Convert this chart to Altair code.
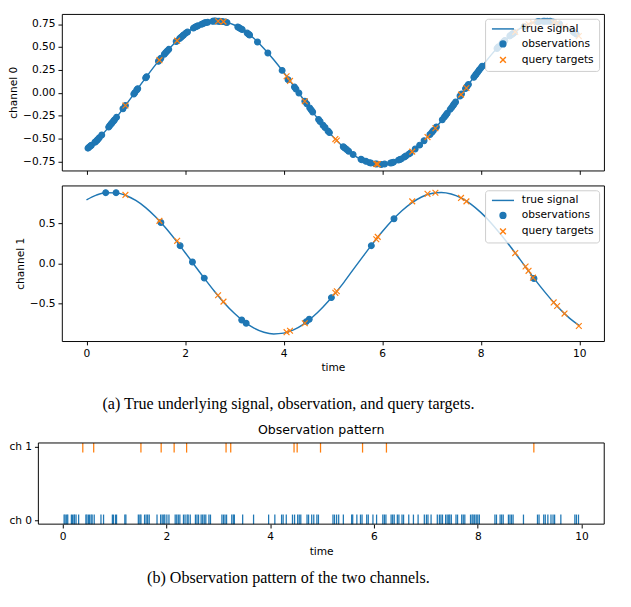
import altair as alt
import pandas as pd

BLUE = "#1f77b4"
ORANGE = "#ff7f0e"

# ---- data ----
curve_t = [0.0, 0.2, 0.4, 0.6, 0.8, 1.0, 1.2, 1.4, 1.6, 1.8,
           2.0, 2.2, 2.4, 2.6, 2.8, 3.0, 3.2, 3.4, 3.6, 3.8,
           4.0, 4.2, 4.4, 4.6, 4.8, 5.0, 5.2, 5.4, 5.6, 5.8,
           6.0, 6.2, 6.4, 6.6, 6.8, 7.0, 7.2, 7.4, 7.6, 7.8,
           8.0, 8.2, 8.4, 8.6, 8.8, 9.0, 9.2, 9.4, 9.6, 9.8, 10.0]

ch0_curve = [-0.620, -0.528, -0.409, -0.276, -0.133, 0.015, 0.162, 0.304, 0.434, 0.549,
             0.645, 0.717, 0.764, 0.784, 0.776, 0.740, 0.678, 0.592, 0.484, 0.360,
             0.224, 0.077, -0.071, -0.217, -0.355, -0.480, -0.587, -0.673, -0.737, -0.775,
             -0.785, -0.766, -0.721, -0.649, -0.554, -0.439, -0.310, -0.168, -0.021, 0.126,
             0.269, 0.405, 0.526, 0.626, 0.703, 0.756, 0.782, 0.781, 0.752, 0.696, 0.615]

ch1_curve = [0.793, 0.852, 0.882, 0.880, 0.848, 0.785, 0.696, 0.581, 0.447, 0.296,
             0.135, -0.031, -0.195, -0.353, -0.499, -0.625, -0.731, -0.812, -0.863, -0.884,
             -0.874, -0.834, -0.764, -0.667, -0.547, -0.410, -0.258, -0.090, 0.076, 0.239,
             0.394, 0.535, 0.657, 0.756, 0.829, 0.872, 0.885, 0.866, 0.817, 0.740,
             0.636, 0.511, 0.366, 0.209, 0.045, -0.121, -0.283, -0.433, -0.570, -0.687, -0.779]

ch0_obs = [
    (0.03, -0.606), (0.05, -0.597), (0.08, -0.583), (0.10, -0.574), (0.17, -0.542),
    (0.19, -0.533), (0.22, -0.516), (0.23, -0.510), (0.26, -0.492), (0.31, -0.462),
    (0.45, -0.376), (0.47, -0.362), (0.50, -0.342), (0.52, -0.329), (0.55, -0.309),
    (0.57, -0.296), (0.61, -0.269), (0.74, -0.176), (0.79, -0.140), (0.96, -0.015),
    (0.98, 0.000), (1.02, 0.030), (1.04, 0.044), (1.20, 0.162), (1.22, 0.176),
    (1.46, 0.343), (1.49, 0.363), (1.51, 0.376), (1.58, 0.421), (1.61, 0.440),
    (1.64, 0.457), (1.67, 0.474), (1.82, 0.559), (1.89, 0.593), (1.92, 0.607),
    (1.95, 0.621), (1.97, 0.631), (2.01, 0.649), (2.05, 0.663), (2.17, 0.706),
    (2.20, 0.717), (2.23, 0.724), (2.26, 0.731), (2.33, 0.747), (2.36, 0.754),
    (2.40, 0.764), (2.42, 0.766), (2.46, 0.770), (2.56, 0.780), (2.59, 0.783),
    (2.62, 0.784), (2.67, 0.781), (2.70, 0.780), (2.73, 0.779), (2.76, 0.778),
    (2.82, 0.772), (2.85, 0.767), (3.07, 0.718), (3.10, 0.709), (3.13, 0.700),
    (3.16, 0.690), (3.26, 0.652), (3.29, 0.639), (3.31, 0.631), (3.47, 0.554),
    (3.68, 0.434), (3.97, 0.244), (4.09, 0.143), (4.22, 0.062), (4.25, 0.040),
    (4.31, -0.004), (4.43, -0.093), (4.47, -0.122), (4.53, -0.166), (4.56, -0.188),
    (4.59, -0.210), (4.71, -0.293), (4.74, -0.314), (4.80, -0.355), (4.84, -0.380),
    (4.90, -0.418), (4.93, -0.436), (5.21, -0.591), (5.24, -0.604), (5.28, -0.621),
    (5.32, -0.639), (5.41, -0.676), (5.57, -0.727), (5.59, -0.734), (5.67, -0.750),
    (5.74, -0.764), (5.77, -0.769), (5.86, -0.778), (5.89, -0.780), (5.98, -0.784),
    (6.05, -0.780), (6.17, -0.769), (6.20, -0.766), (6.23, -0.759), (6.33, -0.737),
    (6.36, -0.730), (6.39, -0.723), (6.45, -0.703), (6.48, -0.692), (6.54, -0.671),
    (6.57, -0.660), (6.67, -0.616), (6.76, -0.573), (6.85, -0.525), (6.97, -0.456),
    (7.01, -0.433), (7.04, -0.413), (7.10, -0.375), (7.22, -0.296), (7.26, -0.267),
    (7.29, -0.246), (7.32, -0.225), (7.38, -0.182), (7.41, -0.161), (7.44, -0.139),
    (7.46, -0.124), (7.49, -0.102), (7.58, -0.036), (7.61, -0.014), (7.69, 0.045),
    (7.72, 0.067), (7.75, 0.089), (7.86, 0.169), (7.89, 0.190), (7.91, 0.205),
    (7.94, 0.226), (7.97, 0.248), (8.00, 0.269), (8.03, 0.289), (8.33, 0.484),
    (8.36, 0.502), (8.43, 0.541), (8.46, 0.556), (8.49, 0.571), (8.59, 0.621),
    (8.62, 0.634), (8.65, 0.645), (8.68, 0.657), (8.88, 0.724), (9.15, 0.776),
    (9.18, 0.779), (9.27, 0.782), (9.30, 0.782), (9.35, 0.781), (9.41, 0.780),
    (9.45, 0.774), (9.48, 0.770), (9.60, 0.752), (9.87, 0.668), (9.90, 0.656),
    (9.94, 0.640),
]

ch1_obs = [
    (0.39, 0.883), (0.60, 0.883), (1.51, 0.510), (1.90, 0.220), (2.15, 0.016),
    (2.39, -0.186), (3.15, -0.710), (3.24, -0.750), (4.46, -0.730), (4.52, -0.700),
    (4.97, -0.430), (5.78, 0.220), (6.24, 0.556), (9.08, -0.190),
]

query_t = [0.79, 1.48, 1.84, 2.67, 2.78, 4.06, 4.13, 4.43, 5.05, 5.08, 5.88, 5.91,
           6.61, 6.92, 7.08, 7.60, 7.71, 8.70, 8.91, 8.97, 9.06, 9.48, 9.55, 9.70, 9.99]
ch0_query = [-0.140, 0.356, 0.569, 0.781, 0.777, 0.180, 0.129, -0.093, -0.507, -0.523,
             -0.779, -0.781, -0.644, -0.485, -0.388, -0.021, 0.052, 0.665, 0.732, 0.748,
             0.764, 0.770, 0.759, 0.724, 0.619]
ch1_query = [0.855, 0.530, 0.280, -0.400, -0.480, -0.862, -0.845, -0.750, -0.370, -0.350,
             0.300, 0.330, 0.774, 0.868, 0.882, 0.817, 0.774, 0.127, -0.040, -0.095,
             -0.180, -0.490, -0.535, -0.630, -0.785]

KINDS = ["true signal", "observations", "query targets"]
X_TICKS = [0, 2, 4, 6, 8, 10]

LINE_PATH = "M-3.8,0L3.8,0"
X_PATH = "M-1,-1L1,1M-1,1L1,-1"

CAP_FONT = "Liberation Serif"
FONT = "DejaVu Sans"

PANEL_W = 561          # plot width of the signal panels
PAT_LEFT = 24.3        # observation-pattern plot starts this far left of the panels
PAT_XDOM = [-0.466, 10.436]
PAT_YDOM = [-0.05, 1.05]

INDEP_SCALES = dict(x="independent", y="independent", shape="independent", fill="independent",
                    stroke="independent", color="independent")
INDEP_LEGENDS = dict(shape="independent", fill="independent", stroke="independent",
                     color="independent")


def signal_panel(curve_vals, obs, q_vals, ylabel, yvals, yfmt, ydom, h, bottom, title=None):
    curve_df = pd.DataFrame({"t": curve_t, "v": curve_vals})
    rows = [{"t": t, "v": v, "kind": "observations"} for t, v in obs]
    rows += [{"t": t, "v": v, "kind": "query targets"} for t, v in zip(query_t, q_vals)]
    pts_df = pd.DataFrame(rows)

    xs = alt.Scale(domain=[-0.5, 10.5], nice=False, zero=False)
    ys = alt.Scale(domain=ydom, nice=False, zero=False)
    if bottom:
        xaxis = alt.Axis(values=X_TICKS, format="d", title="time")
    else:
        xaxis = alt.Axis(values=X_TICKS, labels=False, title=None)
    yaxis = alt.Axis(values=yvals, format=yfmt, title=ylabel)

    line = alt.Chart(curve_df).mark_line(
        color=BLUE, strokeWidth=1.5, interpolate="monotone"
    ).encode(
        x=alt.X("t:Q", scale=xs, axis=xaxis),
        y=alt.Y("v:Q", scale=ys, axis=yaxis),
    )

    leg = alt.Legend(title=None, orient="top-right")
    points = alt.Chart(pts_df).mark_point(
        filled=True, size=36, strokeWidth=1.2, opacity=1
    ).encode(
        x=alt.X("t:Q", scale=xs, axis=xaxis),
        y=alt.Y("v:Q", scale=ys, axis=yaxis),
        shape=alt.Shape("kind:N", scale=alt.Scale(domain=KINDS, range=[LINE_PATH, "circle", X_PATH]), legend=leg),
        fill=alt.Fill("kind:N", scale=alt.Scale(domain=KINDS, range=[BLUE, BLUE, ORANGE]), legend=leg),
        stroke=alt.Stroke("kind:N", scale=alt.Scale(domain=KINDS, range=[BLUE, BLUE, ORANGE]), legend=leg),
    )
    props = dict(width=PANEL_W, height=h)
    if title is not None:
        props["title"] = title
    return alt.layer(line, points).properties(**props)


caption_a = alt.TitleParams(
    text="(a) True underlying signal, observation, and query targets.",
    orient="bottom", anchor="middle", frame="group", dx=-46, offset=24,
    font=CAP_FONT, fontSize=16.6, fontWeight="normal", color="black",
)

panel0 = signal_panel(ch0_curve, ch0_obs, ch0_query, "channel 0",
                      [-0.75, -0.5, -0.25, 0, 0.25, 0.5, 0.75], ".2f",
                      [-0.85, 0.861], 162, False)
panel1 = signal_panel(ch1_curve, ch1_obs, ch1_query, "channel 1",
                      [-0.5, 0, 0.5], ".1f", [-0.973, 0.973], 161, True, caption_a)

# ---- observation pattern ----
pat_rows = [{"t": t, "ch": 0, "chan": "ch 0"} for t, _ in ch0_obs]
pat_rows += [{"t": t, "ch": 1, "chan": "ch 1"} for t, _ in ch1_obs]
pat_df = pd.DataFrame(pat_rows)

PAT_W = PANEL_W - PAT_LEFT   # group width; the scale range reaches left of it
pat_xs = alt.Scale(domain=PAT_XDOM, range=[-PAT_LEFT, PANEL_W + 0.3], nice=False, zero=False)
pat_ys = alt.Scale(domain=PAT_YDOM, nice=False, zero=False)
pat_xaxis = alt.Axis(values=X_TICKS, format="d", title="time", titleX=(PANEL_W - PAT_LEFT) / 2)
pat_yaxis = alt.Axis(values=[0, 1], labelExpr="datum.value == 0 ? 'ch 0' : 'ch 1'",
                     title=None, offset=PAT_LEFT)

events = alt.Chart(pat_df).transform_calculate(
    lo="max(datum.ch - 0.08, -0.05)", hi="min(datum.ch + 0.08, 1.05)"
).mark_rule(strokeWidth=1.3, clip=False).encode(
    x=alt.X("t:Q", scale=pat_xs, axis=pat_xaxis),
    y=alt.Y("lo:Q", scale=pat_ys, axis=pat_yaxis),
    y2="hi:Q",
    color=alt.Color("chan:N", scale=alt.Scale(domain=["ch 0", "ch 1"], range=[BLUE, ORANGE]), legend=None),
)

frame_df = pd.DataFrame({"x0": [PAT_XDOM[0]], "x1": [PAT_XDOM[1]],
                         "y0": [PAT_YDOM[0]], "y1": [PAT_YDOM[1]]})
frame = alt.Chart(frame_df).mark_rect(fill="transparent", stroke="black", strokeWidth=1, clip=False).encode(
    x=alt.X("x0:Q", scale=pat_xs, axis=pat_xaxis), x2="x1:Q",
    y=alt.Y("y0:Q", scale=pat_ys, axis=pat_yaxis), y2="y1:Q",
)

pattern = alt.layer(events, frame).properties(
    width=PAT_W, height=84,
    view=alt.ViewBackground(stroke="transparent"),
    title=alt.TitleParams("Observation pattern", font=FONT, fontSize=13, fontWeight="normal",
                          color="black", anchor="middle", offset=4),
)

caption_b_chart = alt.Chart(pd.DataFrame({"c": [0]})).mark_point(opacity=0).properties(
    width=PANEL_W, height=1,
    view=alt.ViewBackground(stroke="transparent", fill="transparent"),
    title=alt.TitleParams(
        text="(b) Observation pattern of the two channels.",
        orient="bottom", anchor="middle", frame="group", offset=4, dx=-46,
        font=CAP_FONT, fontSize=16.6, fontWeight="normal", color="black",
    ),
)

top = alt.vconcat(panel0, panel1, spacing=9.5).resolve_scale(**INDEP_SCALES).resolve_legend(**INDEP_LEGENDS)
bottom = alt.vconcat(pattern, caption_b_chart, spacing=4).resolve_scale(**INDEP_SCALES).resolve_legend(**INDEP_LEGENDS)

chart = alt.vconcat(top, bottom, spacing=11).resolve_scale(
    **INDEP_SCALES
).resolve_legend(
    **INDEP_LEGENDS
).properties(
    padding={"left": 7, "top": 3, "right": 2, "bottom": 0},
).configure(
    background="white",
).configure_view(
    stroke="black", strokeWidth=1,
).configure_axis(
    labelFont=FONT, labelFontSize=11, labelColor="black",
    titleFont=FONT, titleFontSize=11, titleFontWeight="normal", titleColor="black",
    tickColor="black", tickSize=4, tickWidth=1, domain=False, grid=False,
    labelPadding=3, titlePadding=4,
).configure_legend(
    labelFont=FONT, labelFontSize=11, labelColor="black",
    fillColor="rgba(255,255,255,0.8)", strokeColor="#cccccc", cornerRadius=3,
    padding=5, symbolSize=36, symbolStrokeWidth=1.5, rowPadding=3.5,
    symbolOffset=8, labelOffset=14, offset=5,
)

chart.save("out.html", embed_options={"renderer": "svg", "actions": False})
